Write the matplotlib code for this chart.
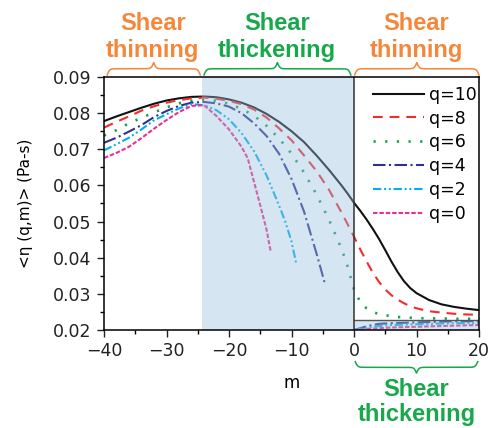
import numpy as np
import matplotlib
matplotlib.use("Agg")
import matplotlib.pyplot as plt
from matplotlib.transforms import blended_transform_factory
from matplotlib.ticker import MultipleLocator

# --- data ---
m_full = [-40, -38, -36, -34, -32, -30, -28, -26, -24, -22, -20, -18, -16, -14, -12,
          -10, -8, -6, -4, -2, -1, 0, 1, 2, 3, 4, 5, 6, 7, 8, 9, 10, 12, 14, 16, 18, 20]

eta_q10 = [0.0778, 0.0791, 0.0803, 0.0815, 0.0826, 0.0835, 0.0841, 0.0845, 0.0846, 0.0844,
           0.0838, 0.0829, 0.0816, 0.0798, 0.0776, 0.0750, 0.0720, 0.0683, 0.0643, 0.0600,
           0.0577, 0.0552, 0.0530, 0.0506, 0.0480, 0.0452, 0.0421, 0.0389, 0.0360, 0.0335,
           0.0316, 0.0302, 0.0283, 0.0271, 0.0264, 0.0259, 0.0255]

eta_q8 = [0.0760, 0.0776, 0.0791, 0.0807, 0.0819, 0.0829, 0.0836, 0.0841, 0.0843, 0.0840,
          0.0834, 0.0825, 0.0810, 0.0788, 0.0758, 0.0725, 0.0683, 0.0640, 0.0588, 0.0525,
          0.0492, 0.0458, 0.0423, 0.0390, 0.0359, 0.0333, 0.0312, 0.0296, 0.0284, 0.0274,
          0.0266, 0.0260, 0.0252, 0.0248, 0.0245, 0.0243, 0.0242]

eta_q6 = [0.0738, 0.0753, 0.0772, 0.0787, 0.0802, 0.0816, 0.0827, 0.0834, 0.0837, 0.0834,
          0.0826, 0.0812, 0.0793, 0.0765, 0.0730, 0.0688, 0.0636, 0.0575, 0.0505, 0.0425,
          0.0375, 0.0311, 0.0278, 0.0260, 0.0250, 0.0244, 0.0241, 0.0238, 0.0236, 0.0235,
          0.0234, 0.0233, 0.0232, 0.0232, 0.0231, 0.0231, 0.0231]

m_q4 = [-40, -38, -36, -34, -32, -30, -28, -26, -24, -22, -20, -18, -16, -14, -12, -10, -8, -6, -4.6]
eta_q4 = [0.0718, 0.0732, 0.0749, 0.0767, 0.0789, 0.0806, 0.0820, 0.0829, 0.0831, 0.0827,
          0.0818, 0.0800, 0.0772, 0.0737, 0.0688, 0.0618, 0.0528, 0.0412, 0.0325]

m_q2 = [-40, -38, -36, -34, -32, -30, -28, -26, -24, -22, -20, -18, -16, -14, -12, -11, -10, -9.2]
eta_q2 = [0.0697, 0.0714, 0.0732, 0.0755, 0.0780, 0.0797, 0.0813, 0.0825, 0.0822, 0.0808,
          0.0783, 0.0745, 0.0695, 0.0628, 0.0545, 0.0500, 0.0445, 0.0380]

m_q0 = [-40, -38, -36, -34, -32, -30, -28, -26, -24, -22, -20, -18, -17, -16, -15, -14, -13.3]
eta_q0 = [0.0676, 0.0690, 0.0707, 0.0731, 0.0757, 0.0781, 0.0803, 0.0820, 0.0822, 0.0792,
          0.0755, 0.0707, 0.0675, 0.0610, 0.0545, 0.0478, 0.0415]

# low branch for m > 0
m_low = [0, 1, 2, 3, 4, 6, 8, 10, 12, 14, 16, 18, 20]
eta_q4_low = [0.0200, 0.0205, 0.0210, 0.0214, 0.0217, 0.0219, 0.0220, 0.0221, 0.0222, 0.0223, 0.0224, 0.0224, 0.0225]
eta_q2_low = [0.0200, 0.0203, 0.0206, 0.0209, 0.0211, 0.0214, 0.0215, 0.0216, 0.0217, 0.0218, 0.0219, 0.0219, 0.0220]
eta_q0_low = [0.0200, 0.0201, 0.0203, 0.0204, 0.0205, 0.0207, 0.0208, 0.0209, 0.0210, 0.0211, 0.0212, 0.0213, 0.0214]

labels = ["q=10", "q=8", "q=6", "q=4", "q=2", "q=0"]
thick_region = (-24.4, 0)
low_box = (0, 20, 0.0228)

colors = {
    "q=10": "#111111",
    "q=8": "#ee2d2d",
    "q=6": "#12a24a",
    "q=4": "#2e3192",
    "q=2": "#00aeef",
    "q=0": "#ec2f8f",
}
dashes = {
    "q=10": None,
    "q=8": (7, 5),
    "q=6": (1.6, 6.8),
    "q=4": (9, 2.5, 1.5, 2.5),
    "q=2": (6, 2, 1.4, 2, 1.4, 2),
    "q=0": (3.2, 1.4),
}
orange = "#f5873a"
green = "#17a84b"
shade = "#96bedc"

plt.rcParams["lines.scale_dashes"] = False
plt.rcParams["font.family"] = "DejaVu Sans"


def brace(ax, x0, x1, y0, h, color, b=5.0):
    tr = blended_transform_factory(ax.transData, ax.transAxes)
    xm = 0.5 * (x0 + x1)
    xh = np.linspace(x0, xm, 200)
    yh = 1 / (1 + np.exp(-b * (xh - x0))) + 1 / (1 + np.exp(-b * (xh - xm)))
    xs = np.concatenate([xh, 2 * xm - xh[-2::-1]])
    ys = np.concatenate([yh, yh[-2::-1]])
    ax.plot(xs, y0 + (ys - 0.5) * h, color=color, lw=1.1, transform=tr, clip_on=False)


def label(ax, x, y1, y2, word, color):
    tr = blended_transform_factory(ax.transData, ax.transAxes)
    kw = dict(transform=tr, ha="center", va="baseline", fontsize=17, fontweight="bold",
              color=color, family="Liberation Sans", clip_on=False)
    ax.text(x, y1, "Shear", **kw)
    ax.text(x, y2, word, **kw)


fig = plt.figure(figsize=(4.91, 4.28), dpi=100)
ax = fig.add_axes([104 / 491, 98 / 428, 375 / 491, 253 / 428])

series = [
    ("q=10", m_full, eta_q10),
    ("q=8", m_full, eta_q8),
    ("q=6", m_full, eta_q6),
    ("q=4", m_q4, eta_q4),
    ("q=2", m_q2, eta_q2),
    ("q=0", m_q0, eta_q0),
]
for name, m, eta in series:
    lw = 1.9 if name == "q=6" else 1.5
    ln, = ax.plot(m, eta, color=colors[name], lw=lw, label=name, zorder=2)
    if dashes[name]:
        ln.set_dashes(dashes[name])

for name, eta in [("q=4", eta_q4_low), ("q=2", eta_q2_low), ("q=0", eta_q0_low)]:
    ln, = ax.plot(m_low, eta, color=colors[name], lw=1.5, zorder=2)
    ln.set_dashes(dashes[name])

# shaded overlays
ax.axvspan(*thick_region, color=shade, alpha=0.4, lw=0, zorder=3)
ax.fill_between([low_box[0], low_box[1]], 0.02, low_box[2], color=shade, alpha=0.4, lw=0, zorder=3)
ax.plot([low_box[0], low_box[1]], [low_box[2], low_box[2]], color="#555555", lw=1, zorder=4)
ax.axvline(0, color="#333333", lw=1.1, zorder=4)

ax.set_xlim(-40, 20)
ax.set_ylim(0.02, 0.09)
ax.xaxis.set_major_locator(MultipleLocator(10))
ax.xaxis.set_minor_locator(MultipleLocator(5))
ax.yaxis.set_major_locator(MultipleLocator(0.01))
ax.yaxis.set_minor_locator(MultipleLocator(0.005))
ax.tick_params(which="major", direction="out", length=5, width=1, labelsize=12.5,
               colors="#222222", pad=4)
ax.tick_params(which="minor", direction="out", length=3, width=1)
ax.set_yticks(np.arange(0.02, 0.0901, 0.01))
ax.set_yticklabels([f"{v:.2f}" for v in np.arange(0.02, 0.0901, 0.01)])
for s in ax.spines.values():
    s.set_linewidth(1.1)
    s.set_zorder(5)

ax.set_xlabel("m", fontsize=12, labelpad=10)
ax.set_ylabel("<η (q,m)> (Pa-s)", fontsize=11, labelpad=14)

leg = ax.legend(loc="upper left", bbox_to_anchor=(0.7165, 0.966), frameon=False,
                fontsize=12.5, handlelength=2.95, handletextpad=0.3, labelspacing=0.34,
                borderpad=0, borderaxespad=0)

# braces and region labels
brace(ax, -39.5, -24.6, 1.008, 0.049, orange)
brace(ax, -24.0, -0.5, 1.008, 0.049, green)
brace(ax, 0.1, 20, 1.008, 0.049, orange)
brace(ax, 0.2, 19.8, -0.125, -0.045, green)

label(ax, -32.2, 1.186, 1.079, "thinning", orange)
label(ax, -12.3, 1.186, 1.079, "thickening", green)
label(ax, 10, 1.186, 1.079, "thinning", orange)
label(ax, 10, -0.262, -0.36, "thickening", green)

fig.savefig("out.png", dpi=100)
